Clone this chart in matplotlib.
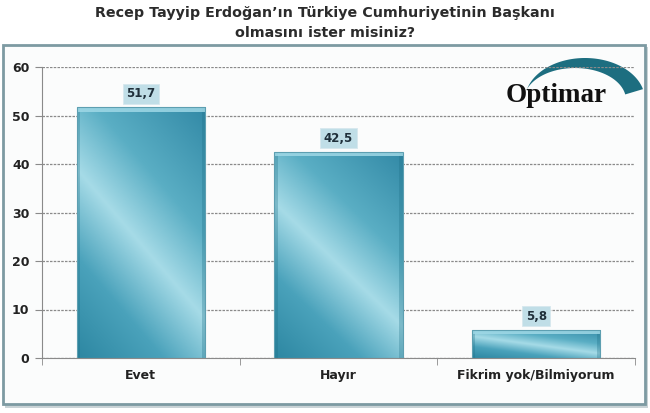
import numpy as np
import matplotlib.pyplot as plt
from matplotlib.patches import Rectangle, Polygon
from matplotlib.colors import LinearSegmentedColormap

# Data
categories = ["Evet", "Hayır", "Fikrim yok/Bilmiyorum"]
values = [51.7, 42.5, 5.8]
value_labels = ["51,7", "42,5", "5,8"]
yticks = [0, 10, 20, 30, 40, 50, 60]
title = "Recep Tayyip Erdoğan’ın Türkiye Cumhuriyetinin Başkanı\nolmasını ister misiniz?"

W, H = 650, 413
fig = plt.figure(figsize=(W / 100, H / 100), dpi=100)
fig.patch.set_facecolor("white")

# background axes in pixel coords (y down) for the frame and logo
bg = fig.add_axes([0, 0, 1, 1], zorder=-1)
bg.set_xlim(0, W)
bg.set_ylim(H, 0)
bg.axis("off")
bg.add_patch(Rectangle((5, 47), 643, 361, facecolor="#c9d3d6", edgecolor="none"))
bg.add_patch(Rectangle((3, 45), 642, 359, facecolor="#fbfcfc", edgecolor="#7d9aa2", linewidth=2))

# logo swoosh (crescent) + name
th_o = np.radians(np.linspace(163, 15, 80))
th_i = np.radians(np.linspace(10, 163, 80))
outer = np.column_stack([585 + 60 * np.cos(th_o), 100 - 42 * np.sin(th_o)])
inner = np.column_stack([575 + 51 * np.cos(th_i), 100 - 32 * np.sin(th_i)])
bg.add_patch(Polygon(np.vstack([outer, inner]), closed=True, facecolor="#1d6e80", edgecolor="none"))
bg.text(556, 95, "Optimar", ha="center", va="center", fontsize=19.5, fontweight="bold",
        family="Liberation Serif", color="#111111")

fig.text(0.5, 1 - 23 / H, title, ha="center", va="center", fontsize=10.3,
         fontweight="bold", color="#2b2b2b", linespacing=1.55)

ax = fig.add_axes([42 / W, 1 - 358 / H, 593 / W, 291 / H])
ax.set_facecolor("none")
x = np.arange(len(categories))

bars = ax.bar(x, values, width=0.65, color="none", edgecolor="#5d9fb1", linewidth=0.8, zorder=3)

# teal gradient with a soft diagonal highlight (top-left to bottom-right), clipped to each bar
cmap = LinearSegmentedColormap.from_list(
    "teal", [(0, "#2d87a2"), (0.25, "#4aa2bb"), (0.47, "#a6dbe7"), (0.68, "#5aaec4"), (1, "#3289a6")])
gx, gy = np.meshgrid(np.linspace(0, 1, 200), np.linspace(0, 1, 200))
diag = 0.375 * gx + 0.625 * (1 - gy)
for b in bars:
    x0, y0, w, h = b.get_x(), b.get_y(), b.get_width(), b.get_height()
    img = ax.imshow(diag, cmap=cmap, extent=(x0, x0 + w, y0, y0 + h), origin="upper",
                    aspect="auto", zorder=2, interpolation="bilinear")
    img.set_clip_path(b)
    # darker side bevels and light top bevel
    ax.add_patch(Rectangle((x0, y0), 0.018, h, facecolor="#1e6f86", edgecolor="none",
                           alpha=0.3, zorder=2.5))
    ax.add_patch(Rectangle((x0 + w - 0.018, y0), 0.018, h, facecolor="#1e6f86", edgecolor="none",
                           alpha=0.3, zorder=2.5))
    ax.add_patch(Rectangle((x0, y0 + h - 0.9), w, 0.9, facecolor="#9fd8e6", edgecolor="none",
                           alpha=0.85, zorder=2.6))
ax.set_xlim(-0.5, len(categories) - 0.5)
ax.set_ylim(0, 60)

for xi, v, lab in zip(x, values, value_labels):
    ax.annotate(lab, (xi, v), xytext=(0, 5), textcoords="offset points", ha="center",
                va="bottom", fontsize=8.5, fontweight="bold", color="#1f2f3a",
                bbox=dict(boxstyle="square,pad=0.3", facecolor="#c0dee7", edgecolor="#d6e8ee",
                          linewidth=0.6))

ax.set_yticks(yticks)
ax.set_yticklabels([str(t) for t in yticks], fontsize=9, fontweight="bold", color="#222222")
ax.yaxis.grid(True, linestyle=(0, (2, 1)), color="#8a8a8a", linewidth=0.9, zorder=1)
ax.set_axisbelow(True)
ax.set_xticks(x)
ax.set_xticklabels(categories, fontsize=9, fontweight="bold", color="#222222")
ax.tick_params(axis="x", length=0, pad=8)
ax.set_xticks(np.arange(-0.5, len(categories)), minor=True)
ax.tick_params(axis="x", which="minor", length=5, color="#8a8a8a")
ax.tick_params(axis="y", length=5, color="#8a8a8a", pad=4)
for s in ["top", "right"]:
    ax.spines[s].set_visible(False)
for s in ["left", "bottom"]:
    ax.spines[s].set_color("#8a8a8a")

fig.savefig("out.png", dpi=100)
